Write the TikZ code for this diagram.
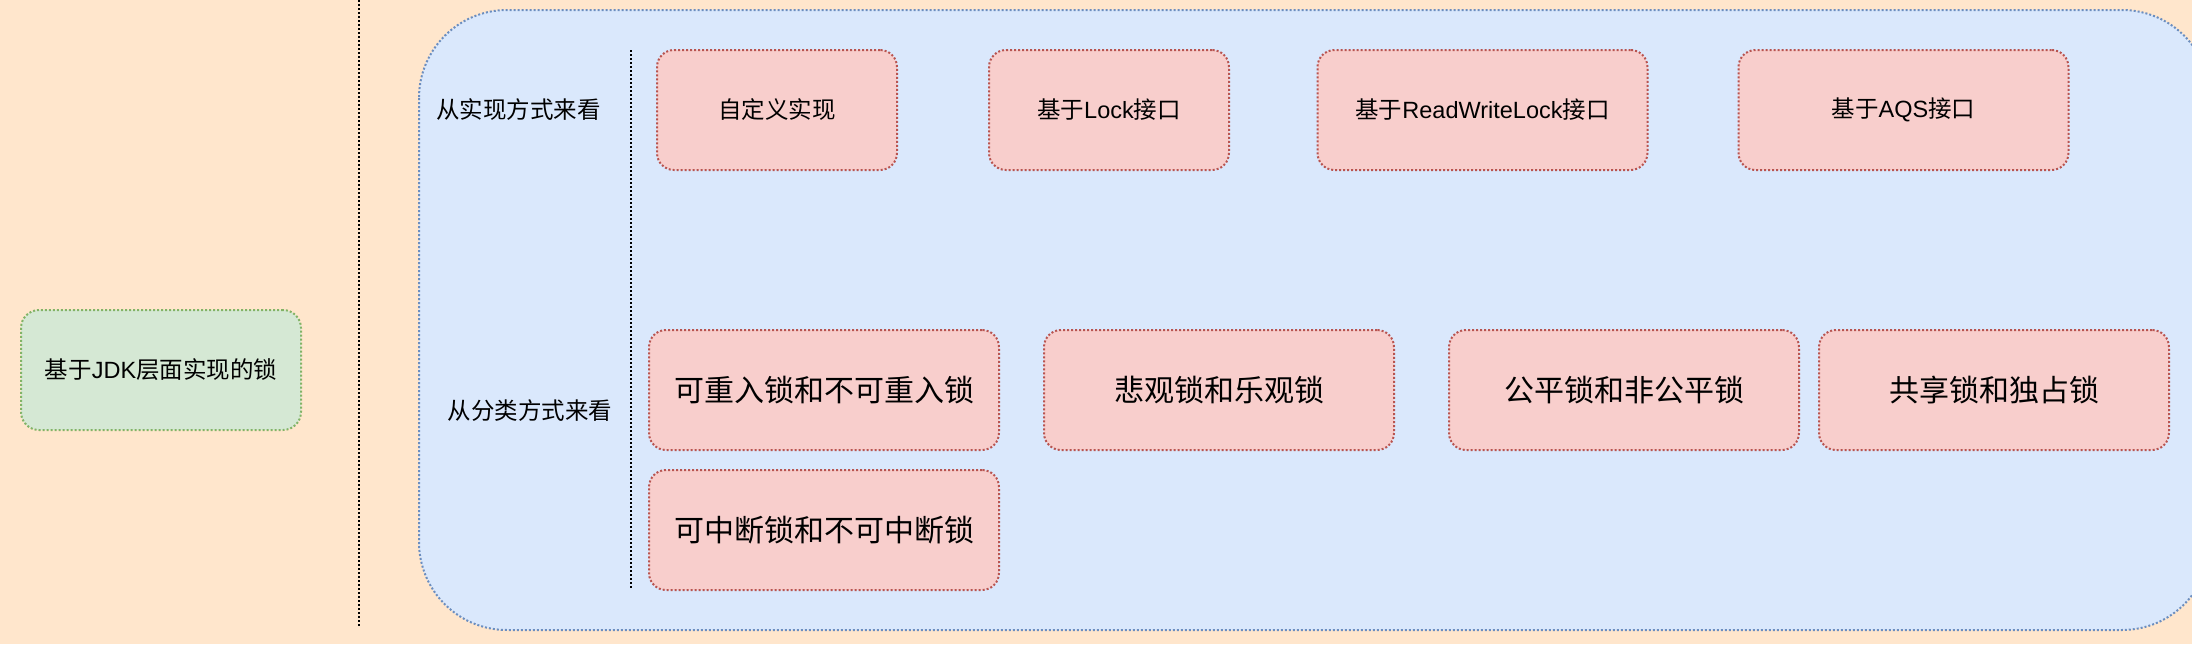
\documentclass[tikz,border=0pt]{standalone}
\usepackage{fontspec}
\setmainfont{Liberation Sans}
\newfontfamily\cjk{Noto Sans CJK SC}
\definecolor{bgpeach}{HTML}{FFE6CC}
\definecolor{bluefill}{HTML}{DAE8FC}
\definecolor{bluestroke}{HTML}{6C8EBF}
\definecolor{redfill}{HTML}{F8CECC}
\definecolor{redstroke}{HTML}{B85450}
\definecolor{greenfill}{HTML}{D5E8D4}
\definecolor{greenstroke}{HTML}{82B366}
\tikzset{
  dots/.style={line width=1pt, dash pattern=on 1pt off 1pt},
  redbox/.style={draw=redstroke, fill=redfill, dots, rounded corners=8.5pt,
    minimum height=60pt, inner sep=0pt, font=\fontsize{11.75}{14}\selectfont},
  bigred/.style={redbox, minimum width=175pt, font=\fontsize{15}{18}\selectfont},
  greenbox/.style={draw=greenstroke, fill=greenfill, dots, rounded corners=9pt,
    minimum width=140pt, minimum height=60pt, inner sep=0pt, font=\fontsize{11.75}{14}\selectfont},
  lbl/.style={inner sep=0pt, font=\fontsize{11.75}{14}\selectfont},
}
\begin{document}
\begin{tikzpicture}[x=0.5pt,y=-0.5pt]
\fill[bgpeach] (0,0) rectangle (2192,644);
\useasboundingbox (0,0) rectangle (2192,644);
% separator
\coordinate (s1) at (358.5,0);
\coordinate (s2) at (358.5,627.5);
\draw[black, dots] (s1) -- (s2);
% green box
\node[greenbox] (jdk) at (161,370) {\cjk 基于{\fontspec{Liberation Sans}JDK}层面实现的锁};
% blue container
\draw[bluestroke, fill=bluefill, dots, rounded corners=44pt] (419,10) rectangle (2210,630);
% inner separator
\coordinate (i1) at (631,50);
\coordinate (i2) at (631,588);
\draw[black, dots] (i1) -- (i2);
% labels
\node[lbl] (impl) at (518.6,110) {\cjk 从实现方式来看};
\node[lbl] (cls) at (530,411) {\cjk 从分类方式来看};
% top row
\node[redbox, minimum width=120pt] (a) at (777,110) {\cjk 自定义实现};
\node[redbox, minimum width=120pt] (b) at (1109,110) {{\cjk 基于}Lock{\cjk 接口}};
\node[redbox, minimum width=165pt] (c) at (1482.5,110) {{\cjk 基于}ReadWriteLock{\cjk 接口}};
\node[redbox, minimum width=165pt] (d) at (1903.5,110) {{\cjk 基于}AQS{\cjk 接口}};
% second row
\node[bigred] (e) at (824,390) {\cjk 可重入锁和不可重入锁};
\node[bigred] (f) at (1219,390) {\cjk 悲观锁和乐观锁};
\node[bigred] (g) at (1624,390) {\cjk 公平锁和非公平锁};
\node[bigred] (h) at (1994,390) {\cjk 共享锁和独占锁};
% third row
\node[bigred] (k) at (824,530) {\cjk 可中断锁和不可中断锁};
\end{tikzpicture}
\end{document}
